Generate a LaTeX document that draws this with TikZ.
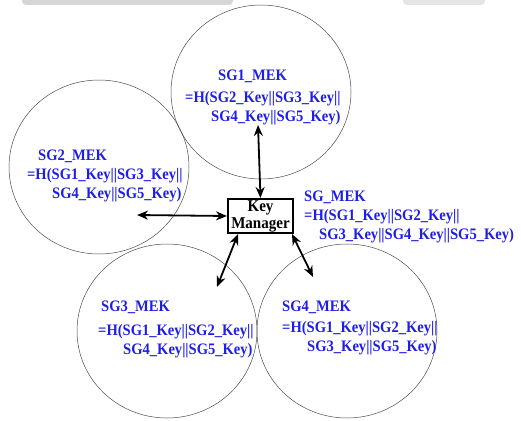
\documentclass[tikz,border=0pt]{standalone}
\usepackage{fontspec}
\setmainfont{Liberation Serif}[FakeStretch=0.91]
\usetikzlibrary{positioning,shapes.geometric,arrows.meta,calc}
\definecolor{mekblue}{RGB}{30,30,230}

\begin{document}
\begin{tikzpicture}[%
    x=1pt,
    y=-1pt,
    >={Stealth[length=11pt,width=9pt]},
    group/.style={%
      ellipse,
      minimum width=180pt,
      minimum height=174pt,
      inner sep=0pt,
      draw=black!70,
      line width=0.5pt
    },
    mek/.style={%
      anchor=north west,
      inner sep=0pt,
      align=left,
      text=mekblue,
      font=\bfseries\fontsize{16}{19}\selectfont
    },
    keybox/.style={%
      rectangle,
      minimum width=65pt,
      minimum height=34pt,
      inner sep=1pt,
      align=center,
      line width=2pt,
      draw,
      font=\bfseries\fontsize{16.5}{17}\selectfont
    },
    link/.style={<->, line width=1.8pt}
  ]
    \useasboundingbox (0,0) rectangle (521,420);
    % leftovers of the figure above
    \fill[black!16, rounded corners=4pt] (22,-10) rectangle (233,5);
    \fill[black!10, rounded corners=4pt] (403,-10) rectangle (485,5);

    \node[group] (sg1) at (261,92) {};
    \node[group] (sg2) at (99,167) {};
    \node[group] (sg3) at (167,331) {};
    \node[group] (sg4) at (347,331) {};
    \node[keybox] (km) at (260.5,216) {Key\\Manager};

    \node[mek] (mek1) at (185,70)
      {\hspace*{33pt}SG1\_MEK\\[3pt]=H(SG2\_Key||SG3\_Key||\\\hspace*{26pt}SG4\_Key||SG5\_Key)};
    \node[mek] (mek2) at (27,150)
      {\hspace*{11pt}SG2\_MEK\\=H(SG1\_Key||SG3\_Key||\\\hspace*{25pt}SG4\_Key||SG5\_Key)};
    \node[mek] (mek) at (304,191)
      {SG\_MEK\\=H(SG1\_Key||SG2\_Key||\\\hspace*{15pt}SG3\_Key||SG4\_Key||SG5\_Key)};
    \node[mek] (mek3) at (98,301)
      {\hspace*{3pt}SG3\_MEK\\[5pt]=H(SG1\_Key||SG2\_Key||\\\hspace*{25pt}SG4\_Key||SG5\_Key)};
    \node[mek] (mek4) at (282,301)
      {SG4\_MEK\\[2pt]=H(SG1\_Key||SG2\_Key||\\\hspace*{25pt}SG3\_Key||SG5\_Key)};

    \coordinate (end1) at (258,125);
    \coordinate (end2) at (137,215);
    \coordinate (end3) at (217,287);
    \coordinate (end4) at (313,277);

    \draw[link] (km.north) -- (end1);
    \draw[link] (km.west) -- (end2);
    \draw[link] ([xshift=11pt]km.south west) -- (end3);
    \draw[link] ([xshift=-2pt]km.south east) -- (end4);
\end{tikzpicture}
\end{document}
